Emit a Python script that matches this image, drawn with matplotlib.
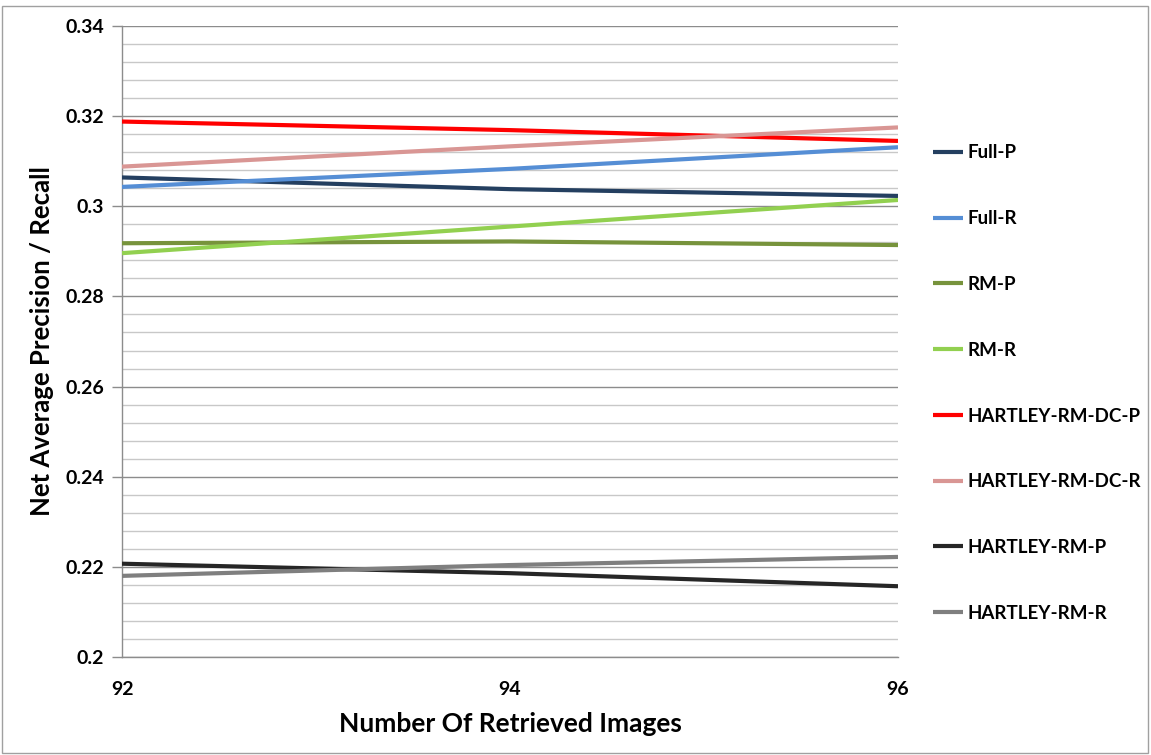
import matplotlib
matplotlib.use("Agg")
import matplotlib.pyplot as plt
from matplotlib.ticker import MultipleLocator
from matplotlib.patches import Rectangle

plt.rcParams['font.family'] = ['Lato', 'DejaVu Sans']

x_values = [92, 94, 96]
series_names = ["Full-P", "Full-R", "RM-P", "RM-R",
                "HARTLEY-RM-DC-P", "HARTLEY-RM-DC-R", "HARTLEY-RM-P", "HARTLEY-RM-R"]
full_p = [0.3064, 0.3038, 0.3023]
full_r = [0.3043, 0.3083, 0.3131]
rm_p = [0.2918, 0.2922, 0.2914]
rm_r = [0.2896, 0.2955, 0.3014]
hartley_dc_p = [0.3188, 0.3169, 0.3145]
hartley_dc_r = [0.3088, 0.3133, 0.3175]
hartley_p = [0.2207, 0.2186, 0.2157]
hartley_r = [0.2180, 0.2204, 0.2222]
series_values = [full_p, full_r, rm_p, rm_r, hartley_dc_p, hartley_dc_r, hartley_p, hartley_r]
colors = ["#243F60", "#558ED5", "#77933C", "#92D050",
          "#FF0000", "#D99694", "#262626", "#7F7F7F"]
y_ticks = [0.2, 0.22, 0.24, 0.26, 0.28, 0.3, 0.32, 0.34]
y_tick_labels = ["0.2", "0.22", "0.24", "0.26", "0.28", "0.3", "0.32", "0.34"]

fig = plt.figure(figsize=(11.51, 7.55), dpi=100)
W, H = 1151, 755
left, right, top, bottom = 122, 898, 26, 657
ax = fig.add_axes([left / W, 1 - bottom / H, (right - left) / W, (bottom - top) / H])

for name, vals, c in zip(series_names, series_values, colors):
    ax.plot(x_values, vals, color=c, lw=3.0, label=name, solid_capstyle='butt', zorder=3)

ax.set_xlim(92, 96)
ax.set_ylim(0.2, 0.34)
ax.set_xticks(x_values)
ax.set_xticklabels([str(v) for v in x_values])
ax.set_yticks(y_ticks)
ax.set_yticklabels(y_tick_labels)
ax.yaxis.set_minor_locator(MultipleLocator(0.004))

ax.grid(True, which='major', axis='y', color='#8C8C8C', lw=1.0, zorder=1)
ax.grid(True, which='minor', axis='y', color='#C8C8C8', lw=1.0, zorder=1)
ax.grid(False, axis='x')

for s in ['top', 'right']:
    ax.spines[s].set_visible(False)
for s in ['left', 'bottom']:
    ax.spines[s].set_color('#8C8C8C')
    ax.spines[s].set_linewidth(1.0)

ax.tick_params(axis='y', which='major', length=7, color='#8C8C8C', width=1,
               labelsize=14, pad=6)
ax.tick_params(axis='y', which='minor', length=0)
ax.tick_params(axis='x', which='major', length=0, labelsize=14, pad=17)
for lab in ax.get_xticklabels() + ax.get_yticklabels():
    lab.set_fontweight('bold')

ax.set_xlabel("Number Of Retrieved Images", fontsize=19, fontweight='bold', labelpad=10)
ax.set_ylabel("Net Average Precision / Recall", fontsize=18.5, fontweight='bold', labelpad=8)

leg = fig.legend(loc='upper left', bbox_to_anchor=(925 / W, 1 - 137 / H), frameon=False,
                 prop={'size': 13.5, 'weight': 'bold'}, handlelength=1.6,
                 handletextpad=0.28, labelspacing=2.6, borderaxespad=0)

fig.patches.append(Rectangle((2 / W, 2 / H), 1 - 5 / W, 1 - 8 / H, transform=fig.transFigure,
                             fill=False, edgecolor='#A0A0A0', lw=1.0))

fig.savefig("out.png", dpi=100)
